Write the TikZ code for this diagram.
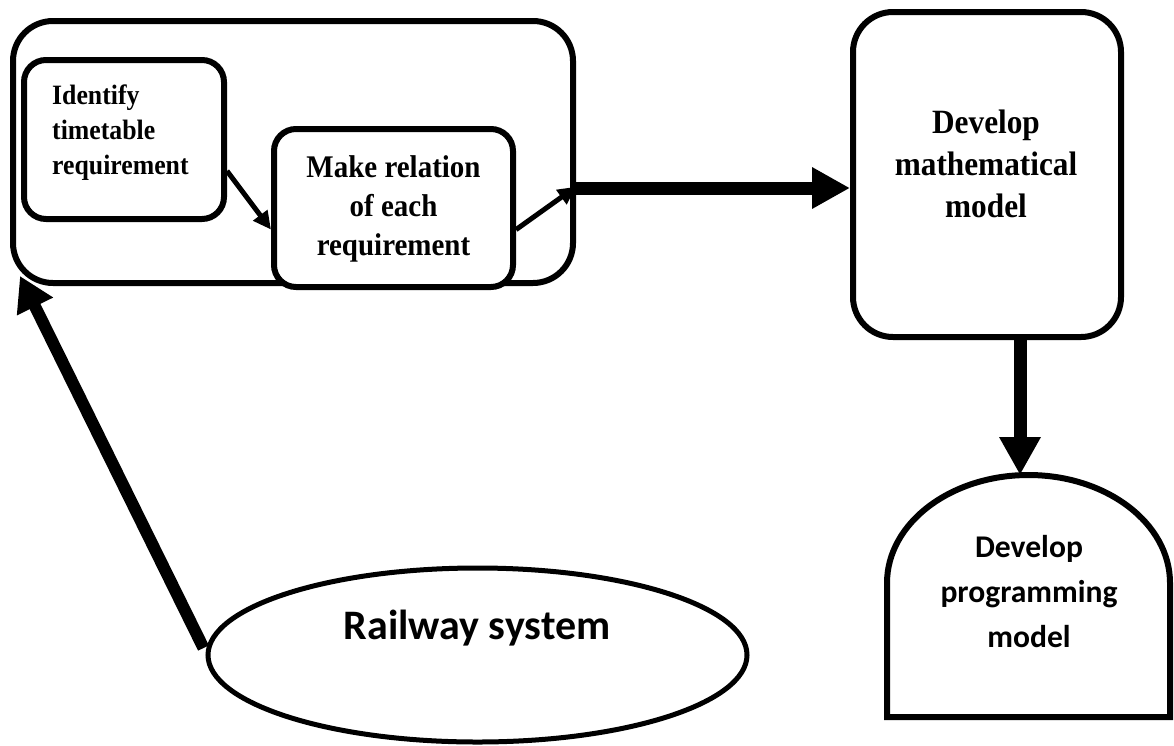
\documentclass[tikz,border=0pt]{standalone}
\usepackage{fontspec}
\setmainfont{Liberation Serif}
\newfontfamily\tmsc{Liberation Serif}[FakeStretch=0.92]
\newfontfamily\calib{Carlito}
\usetikzlibrary{arrows.meta,shapes.geometric,calc}
\begin{document}
\begin{tikzpicture}[x=1pt,y=-1pt,
  box/.style={draw, line width=6pt, rounded corners=#1, inner sep=0pt},
  thinarrow/.style={line width=5pt, -{Triangle[length=18pt,width=17pt]}},
  thickarrow/.style={line width=13pt, -{Triangle[length=38pt,width=39pt]}},
  lbl/.style={inner sep=0pt}]
\useasboundingbox[fill=white] (0,0) rectangle (1174,745);

% boxes
\node[box=40pt, minimum width=560pt, minimum height=262pt] (big) at (293,152) {};
\node[box=22pt, minimum width=200pt, minimum height=159pt] (idn) at (124,139.5) {};
\node[box=22pt, fill=white, minimum width=239pt, minimum height=158pt] (rel) at (393.5,208) {};
\node[box=40pt, minimum width=268pt, minimum height=325pt] (math) at (987,174.5) {};
\draw[line width=6pt] (887,717) -- (887,583)
  arc[start angle=180, end angle=0, x radius=141.5pt, y radius=108pt] -- (1170,717) -- cycle;
\coordinate (progtop) at (1028.5,475);
\node[draw, ellipse, line width=5pt, minimum width=539pt, minimum height=174pt, inner sep=0pt] (rail) at (477.5,655) {};

% texts
\node[lbl, anchor=west, align=left, font=\tmsc\bfseries\fontsize{28pt}{35pt}\selectfont] (idntxt) at (52,133) {Identify\\timetable\\requirement};
\node[lbl, align=center, font=\tmsc\bfseries\fontsize{31.5pt}{39pt}\selectfont] (reltxt) at (393.5,209) {Make relation\\of each\\requirement};
\node[lbl, align=center, font=\tmsc\bfseries\fontsize{34pt}{42pt}\selectfont] (mathtxt) at (986,164) {Develop\\mathematical\\model};
\node[lbl, align=center, font=\calib\bfseries\fontsize{31.6pt}{45pt}\selectfont] (progtxt) at (1029,591.5) {Develop\\programming\\model};
\node[lbl, anchor=base, font=\calib\bfseries\fontsize{42pt}{50pt}\selectfont] (railtxt) at (477,639) {Railway system};

% connectors
\draw[thinarrow] (idn.-17) -- (rel.190);
\draw[thinarrow] (rel.-10) -- (big.-7);
\coordinate (hy) at (0,188);
\draw[thickarrow] (big.east |- hy) -- (math.west |- hy);
\coordinate (vx) at (1020,0);
\draw[thickarrow] (math.south -| vx) -- (progtop -| vx);
\draw[line width=12pt, -{Triangle[length=34pt,width=38pt]}] ($(rail.west)+(-2,-7)$) -- ($(big.south west)+(10,-10)$);
\end{tikzpicture}
\end{document}
